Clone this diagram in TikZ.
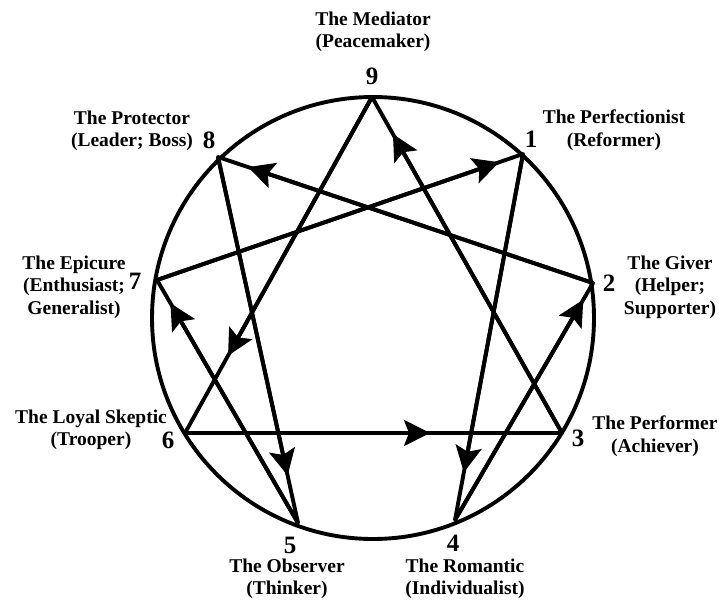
\documentclass[tikz,border=0pt]{standalone}
\usepackage{fontspec}
\setmainfont{Liberation Serif}
\usetikzlibrary{arrows.meta,calc}
\begin{document}
\begin{tikzpicture}[x=1pt,y=-1pt,
  ln/.style={line width=3.9pt, line cap=round, line join=round},
  arr/.style={line width=3.9pt, -{Stealth[length=26pt,width=26pt,inset=5pt]}},
  lab/.style={font=\bfseries\fontsize{19.5}{22.5}\selectfont, align=center, inner sep=0pt},
  num/.style={font=\bfseries\fontsize{25}{25}\selectfont, inner sep=0pt}]
\useasboundingbox (0,0) rectangle (719,600);
\fill[white] (0,0) rectangle (719,600);
\coordinate (c) at (373,318);
\coordinate (n1) at (523,154);
\coordinate (n2) at (593,283);
\coordinate (n3) at (562,433);
\coordinate (n4) at (455,520);
\coordinate (n5) at (298,523);
\coordinate (n6) at (185,433);
\coordinate (n7) at (157,280);
\coordinate (n8) at (218,157);
\coordinate (n9) at (372,97);
\draw[ln] (c) circle[radius=221];
% hexad
\draw[ln] (n1) -- (n4) -- (n2) -- (n8) -- (n5) -- (n7) -- cycle;
% triangle
\draw[ln] (n9) -- (n3) -- (n6) -- cycle;
% arrows
\draw[arr] (n7) -- ($(n7)!0.935!(n1)$);
\draw[arr] (n1) -- ($(n1)!0.87!(n4)$);
\draw[arr] (n4) -- ($(n4)!0.93!(n2)$);
\draw[arr] (n2) -- ($(n2)!0.92!(n8)$);
\draw[arr] (n8) -- ($(n8)!0.87!(n5)$);
\draw[arr] (n5) -- ($(n5)!0.905!(n7)$);
\draw[arr] (n3) -- ($(n3)!0.89!(n9)$);
\draw[arr] (n9) -- ($(n9)!0.77!(n6)$);
\draw[arr] (n6) -- ($(n6)!0.65!(n3)$);
% labels
\node[lab] (t9) at (373,32) {The Mediator\\(Peacemaker)};
\node[num] (d9) at (372,76) {9};
\node[lab] (t8) at (132,131) {The Protector\\(Leader; Boss)};
\node[num] (d8) at (209,140) {8};
\node[lab] (t1) at (614,130) {The Perfectionist\\(Reformer)};
\node[num] (d1) at (531,139) {1};
\node[lab] (t7) at (74,287) {The Epicure\\(Enthusiast;\\Generalist)};
\node[num] (d7) at (135,281) {7};
\node[lab] (t2) at (670,287) {The Giver\\(Helper;\\Supporter)};
\node[num] (d2) at (609,283) {2};
\node[lab] (t6) at (91,430) {The Loyal Skeptic\\(Trooper)};
\node[num] (d6) at (168,440) {6};
\node[lab] (t3) at (655,436) {The Performer\\(Achiever)};
\node[num] (d3) at (578,438) {3};
\node[num] (d5) at (290,545) {5};
\node[lab] (t5) at (287,579) {The Observer\\(Thinker)};
\node[num] (d4) at (453,543) {4};
\node[lab] (t4) at (465,579) {The Romantic\\(Individualist)};
\end{tikzpicture}
\end{document}
